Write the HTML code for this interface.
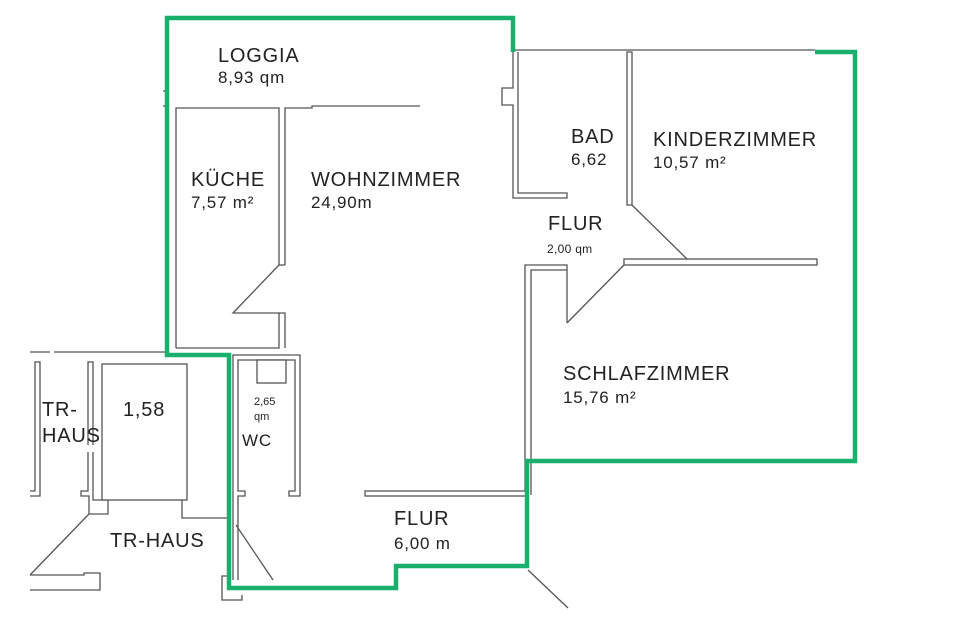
<!DOCTYPE html>
<html><head><meta charset="utf-8"><style>
html,body{margin:0;padding:0;background:#fff;}
svg{display:block;}
text{font-family:"Liberation Sans",sans-serif;fill:#222;}
</style></head><body>
<svg width="960" height="620" viewBox="0 0 960 620" xmlns="http://www.w3.org/2000/svg">
<g fill="#fff" stroke="#555" stroke-width="1.3">
<polyline fill="none" points="176,348 176,108 279,108 279,265"/>
<polyline fill="none" points="285,265 285,108 312,108 312,106 420,106"/>
<line x1="279" y1="265" x2="285" y2="265"/>
<polyline fill="none" points="279,265 233,313 279,313 279,348 176,348"/>
<polyline fill="none" points="279,313 285,313 285,348"/>
<line x1="163" y1="91" x2="167" y2="91"/><line x1="163" y1="106" x2="167" y2="106"/>
<polyline fill="none" points="513,52 513,88 502,88 502,105 513,105 513,198 567,198 567,193 518,193 518,52"/>
<polygon points="627,52 632,52 632,205 627,205"/>
<line x1="632" y1="205" x2="687" y2="259"/>
<rect x="624" y="259" width="193" height="6"/>
<line x1="624" y1="265" x2="567" y2="323"/>
<line x1="513" y1="50" x2="815" y2="50"/>
<polyline fill="none" points="525,495 525,265 567,265 567,323"/>
<polyline fill="none" points="531,495 531,270 567,270"/>
<rect x="365" y="491" width="161" height="5"/>
<line x1="528" y1="570" x2="568" y2="608"/>
<polyline fill="none" points="233,580 233,355 300,355 300,496 289,496 289,491 295,491 295,360 238,360 238,491 245,491 245,496 238,496 238,580"/>
<rect x="257" y="360" width="29" height="23"/>
<line x1="236" y1="525" x2="273" y2="580"/>
<polyline fill="none" points="228,576 222,576 222,600 242,600 242,595"/>
<line x1="30" y1="352" x2="50" y2="352"/><line x1="54" y1="352" x2="167" y2="352"/>
<polyline fill="none" points="30,496 40,496 40,362 35,362 35,491 30,491"/>
<polyline fill="none" points="88,445 88,362 93,362 93,445"/>
<polyline fill="none" points="88,452 88,491 81,491 81,496 89,496 89,514 108,514 108,500 93,500 93,452"/>
<rect x="102" y="364" width="85" height="136"/>
<polyline fill="none" points="182,500 182,518 227,518"/>
<line x1="89" y1="514" x2="30" y2="575"/>
<polyline fill="none" points="30,575 84,575 84,573 100,573 100,590 30,590"/>
</g>
<polyline fill="none" stroke="#18b06c" stroke-width="4.5" stroke-linejoin="miter" points="513,52 513,18 167,18 167,355 229,355 229,588 396,588 396,566 527,566 527,461 855,461 855,52 815,52"/>
<g font-size="20" letter-spacing="0.8">
<text x="218" y="62">LOGGIA</text>
<text x="218" y="83" font-size="17">8,93 qm</text>
<text x="191" y="186">KÜCHE</text>
<text x="191" y="208" font-size="17">7,57 m²</text>
<text x="311" y="186">WOHNZIMMER</text>
<text x="311" y="208" font-size="17">24,90m</text>
<text x="571" y="143">BAD</text>
<text x="571" y="165" font-size="17">6,62</text>
<text x="653" y="146">KINDERZIMMER</text>
<text x="653" y="168" font-size="17">10,57 m²</text>
<text x="548" y="230">FLUR</text>
<text x="547" y="253" font-size="12" letter-spacing="0.3">2,00 qm</text>
<text x="563" y="380">SCHLAFZIMMER</text>
<text x="563" y="403" font-size="17">15,76 m²</text>
<text x="394" y="525">FLUR</text>
<text x="394" y="549" font-size="17">6,00 m</text>
<text x="42" y="416">TR-</text>
<text x="42" y="442">HAUS</text>
<text x="123" y="416">1,58</text>
<text x="110" y="547">TR-HAUS</text>
<text x="254" y="405" font-size="11" letter-spacing="0">2,65</text>
<text x="254" y="420" font-size="11" letter-spacing="0">qm</text>
<text x="242" y="446" font-size="17">WC</text>
</g>
</svg>
</body></html>
